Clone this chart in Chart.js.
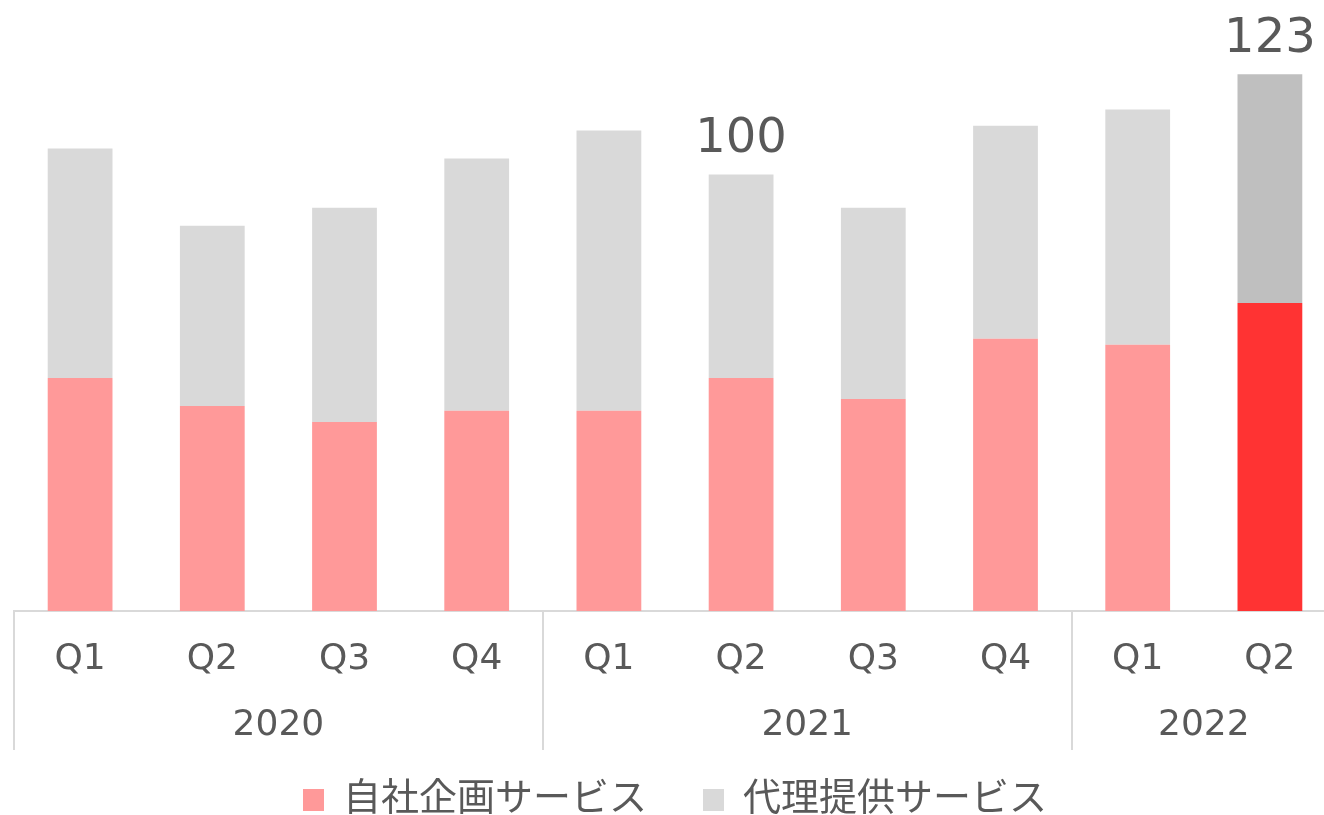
<!DOCTYPE html>
<html>
<head>
<meta charset="utf-8">
<script src="https://cdn.jsdelivr.net/npm/chart.js@4/dist/chart.umd.min.js"></script>
<style>
  html, body { margin: 0; padding: 0; background: #fff; overflow: hidden; }
  #wrap { width: 1336px; height: 815px; }
</style>
</head>
<body>
<div id="wrap"><canvas id="salesChart"></canvas></div>
<script>
// 四半期ごとの売上構成（2021 Q2 = 100）
const quarters = ['Q1', 'Q2', 'Q3', 'Q4', 'Q1', 'Q2', 'Q3', 'Q4', 'Q1', 'Q2'];
const years = ['2020', '2021', '2022'];
const yearSpans = [4, 4, 2];
const jishaKikaku = [53.4, 47.0, 43.3, 45.9, 45.9, 53.4, 48.6, 62.4, 61.0, 70.6];
const dairiTeikyo = [52.6, 41.3, 49.1, 57.8, 64.2, 46.6, 43.8, 48.8, 53.9, 52.4];
const totalLabels = ['', '', '', '', '', '100', '', '', '', '123'];

const FONT = '"DejaVu Sans", "Noto Sans CJK JP", sans-serif';
const TEXT = '#595959';
const LINE = '#d9d9d9';
const last = quarters.length - 1;

const pinkColors = jishaKikaku.map((v, i) => i === last ? '#ff3333' : '#ff9999');
const grayColors = dairiTeikyo.map((v, i) => i === last ? '#bfbfbf' : '#d9d9d9');

// 年の区切り線と年ラベル、合計値ラベル
const yearAxisPlugin = {
    id: 'yearAxis',
    afterDraw(chart) {
        const ctx = chart.ctx;
        const x = chart.scales.x;
        const y = chart.scales.y;
        const bottom = chart.chartArea.bottom;
        const half = (x.getPixelForValue(1) - x.getPixelForValue(0)) / 2;
        ctx.save();
        ctx.strokeStyle = LINE;
        ctx.lineWidth = 2;
        let idx = 0;
        const edges = [idx];
        yearSpans.forEach(s => { idx += s; edges.push(idx); });
        edges.forEach((e, k) => {
            if (k === edges.length - 1) return;
            const px = Math.round(x.getPixelForValue(e) - half);
            ctx.beginPath();
            ctx.moveTo(px, bottom);
            ctx.lineTo(px, bottom + 139);
            ctx.stroke();
        });
        ctx.fillStyle = TEXT;
        ctx.font = '36px ' + FONT;
        ctx.textAlign = 'center';
        ctx.textBaseline = 'middle';
        years.forEach((yr, k) => {
            const a = x.getPixelForValue(edges[k]) - half;
            const b = x.getPixelForValue(edges[k + 1] - 1) + half;
            ctx.fillText(yr, (a + b) / 2, bottom + 115);
        });
        ctx.font = '48px ' + FONT;
        ctx.textBaseline = 'bottom';
        totalLabels.forEach((t, i) => {
            if (!t) return;
            const top = y.getPixelForValue(jishaKikaku[i] + dairiTeikyo[i]);
            ctx.fillText(t, x.getPixelForValue(i), top - 11);
        });
        ctx.restore();
    }
};

const ctx = document.getElementById('salesChart').getContext('2d');
new Chart(ctx, {
    type: 'bar',
    data: {
        labels: quarters,
        datasets: [
            {
                label: '自社企画サービス',
                data: jishaKikaku,
                backgroundColor: pinkColors,
                legendColor: '#ff9999'
            },
            {
                label: '代理提供サービス',
                data: dairiTeikyo,
                backgroundColor: grayColors,
                legendColor: '#d9d9d9'
            }
        ]
    },
    options: {
        responsive: true,
        maintainAspectRatio: false,
        animation: false,
        layout: { padding: { left: 14, right: 0, top: 0, bottom: 0 } },
        datasets: { bar: { categoryPercentage: 1, barPercentage: 0.49 } },
        scales: {
            x: {
                stacked: true,
                grid: { display: false, drawTicks: false },
                border: { display: true, color: LINE, width: 2 },
                ticks: {
                    color: TEXT,
                    font: { size: 36, family: FONT },
                    padding: 27,
                    maxRotation: 0,
                    autoSkip: false
                },
                afterFit(scale) { scale.height = 114; }
            },
            y: {
                stacked: true,
                display: false,
                min: 0,
                max: 140
            }
        },
        plugins: {
            legend: {
                position: 'bottom',
                maxHeight: 90,
                labels: {
                    color: TEXT,
                    font: { size: 38, family: FONT },
                    boxWidth: 21,
                    boxHeight: 22,
                    padding: 56,
                    generateLabels(chart) {
                        return chart.data.datasets.map((ds, i) => ({
                            text: ds.label,
                            fillStyle: ds.legendColor,
                            strokeStyle: ds.legendColor,
                            lineWidth: 0,
                            fontColor: TEXT,
                            datasetIndex: i
                        }));
                    }
                }
            },
            tooltip: { enabled: false }
        }
    },
    plugins: [yearAxisPlugin]
});
</script>
</body>
</html>
